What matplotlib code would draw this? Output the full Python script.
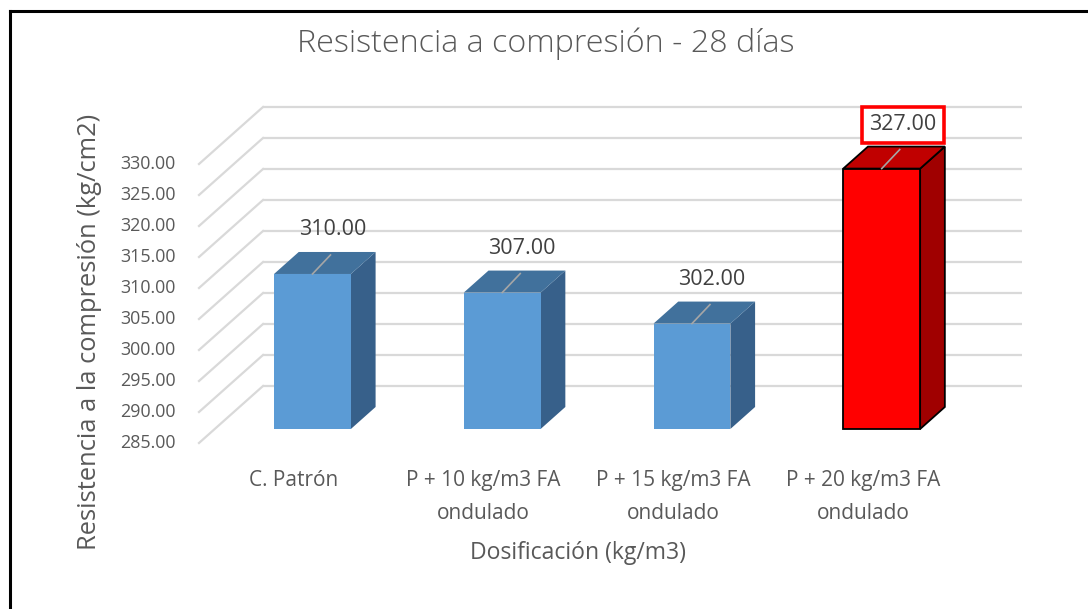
import matplotlib
matplotlib.use("Agg")
import matplotlib.pyplot as plt
from matplotlib.patches import Polygon, Rectangle
from matplotlib.transforms import Affine2D

plt.rcParams['font.family'] = ['Open Sans', 'DejaVu Sans']

# ---- data ----
categories = ["C. Patrón", "P + 10 kg/m3 FA\nondulado", "P + 15 kg/m3 FA\nondulado",
              "P + 20 kg/m3 FA\nondulado"]
values = [310.00, 307.00, 302.00, 327.00]
highlight = [False, False, False, True]
y_ticks = [285, 290, 295, 300, 305, 310, 315, 320, 325, 330]
title = "Resistencia a compresión - 28 días"
x_title = "Dosificación (kg/m3)"
y_title = "Resistencia a la compresión (kg/cm2)"

# ---- style ----
W, H, DPI = 1088, 609, 100
DEPTH = (64, 57)          # pixel offset from front plane to back wall
F0, F1 = 0.246, 0.632     # bar front / back depth fractions
BAR_W = 0.405
BAR_SHIFT = 0.015
Y0, Y1 = 285, 330
GRID = "#d9d9d9"
TXT = "#595959"
LBL = "#404040"
BLUE = ("#5b9bd5", "#41719c", "#37608a")   # front, top, side
RED = ("#ff0000", "#c00000", "#a00000")

fig = plt.figure(figsize=(W / DPI, H / DPI), dpi=DPI)
fig.patch.set_facecolor("white")

# front plane of the 3D box, in figure pixels
left, right, bottom_px, top_px = 199, 958, 443, 164
ax = fig.add_axes([left / W, 1 - bottom_px / H, (right - left) / W, (bottom_px - top_px) / H])
ax.set_xlim(0, len(categories))
ax.set_ylim(Y0, Y1)
ax.axis("off")


def depth(f):
    return ax.transData + Affine2D().translate(DEPTH[0] * f, DEPTH[1] * f)


def disp(x, y, f):
    px, py = ax.transData.transform((x, y))
    return (px + DEPTH[0] * f, py + DEPTH[1] * f)


# back wall gridlines and side-wall slants
for v in y_ticks:
    ax.plot([0, len(categories)], [v, v], color=GRID, lw=1.6, transform=depth(1.0),
            clip_on=False, zorder=1, solid_capstyle="butt")
    p0 = disp(0, v, 0.0)
    p1 = disp(0, v, 1.0)
    ax.add_line(plt.Line2D([p0[0], p1[0]], [p0[1], p1[1]], color=GRID, lw=1.6,
                           transform=None, zorder=1, clip_on=False))
    ax.text(-0.125, v, f"{v:.2f}", ha="right", va="center", fontsize=12.9, color=TXT,
            transform=ax.transData, clip_on=False)

# bars
for i, (v, hl) in enumerate(zip(values, highlight)):
    front, topc, side = RED if hl else BLUE
    ec = "black" if hl else "none"
    lw = 1.3 if hl else 0
    xc = i + 0.5 + BAR_SHIFT
    x0 = xc - BAR_W / 2
    x1 = xc + BAR_W / 2
    side_poly = [disp(x1, Y0, F0), disp(x1, v, F0), disp(x1, v, F1), disp(x1, Y0, F1)]
    top_poly = [disp(x0, v, F0), disp(x1, v, F0), disp(x1, v, F1), disp(x0, v, F1)]
    ax.add_patch(Polygon(side_poly, closed=True, facecolor=side, edgecolor=ec, lw=lw,
                         transform=None, zorder=3, clip_on=False))
    ax.add_patch(Polygon(top_poly, closed=True, facecolor=topc, edgecolor=ec, lw=lw,
                         transform=None, zorder=3, clip_on=False))
    ax.add_patch(Rectangle((x0, Y0), BAR_W, v - Y0, facecolor=front, edgecolor=ec, lw=lw,
                           transform=depth(F0), zorder=4, clip_on=False))

    # leader line and data label
    cx, cy = disp(xc, v, F0)
    ax.add_line(plt.Line2D([cx, cx + 18], [cy, cy + 19], color="#a6a6a6", lw=1.2,
                           transform=None, zorder=5, clip_on=False))
    if hl:
        bbox = dict(boxstyle="square,pad=0.35", facecolor="white", edgecolor="#ff0000",
                    lw=2.6)
        ax.text(cx + 21, cy + 44, f"{v:.2f}", ha="center", va="center", fontsize=15.5,
                color=LBL, transform=None, zorder=6, bbox=bbox, clip_on=False)
    else:
        ax.text(cx + 20, cy + 44, f"{v:.2f}", ha="center", va="center", fontsize=15.5,
                color=LBL, transform=None, zorder=6, clip_on=False)

# category labels along the front floor edge
for i, c in enumerate(categories):
    ax.text(i + 0.5, Y0, c, ha="center", va="top", fontsize=15, color=TXT,
            linespacing=1.72,
            transform=ax.transData + Affine2D().translate(0, -27), clip_on=False)

fig.text(546 / W, 1 - 44 / H, title, ha="center", va="center", fontsize=23.2,
         color=TXT, fontweight="light")
fig.text(578 / W, 1 - 553 / H, x_title, ha="center", va="center", fontsize=16.6,
         color=TXT)
fig.text(90 / W, 1 - 332 / H, y_title, ha="center", va="center", fontsize=18.4,
         color=TXT, rotation=90)

# outer frame (left and top edges)
fig.add_artist(plt.Line2D([9.5 / W, 9.5 / W], [0, 1 - 10.5 / H], color="black", lw=2.2,
                          transform=fig.transFigure))
fig.add_artist(plt.Line2D([9.5 / W, 1], [1 - 10.5 / H, 1 - 10.5 / H], color="black", lw=2.2,
                          transform=fig.transFigure))

fig.savefig("out.png", dpi=DPI)
